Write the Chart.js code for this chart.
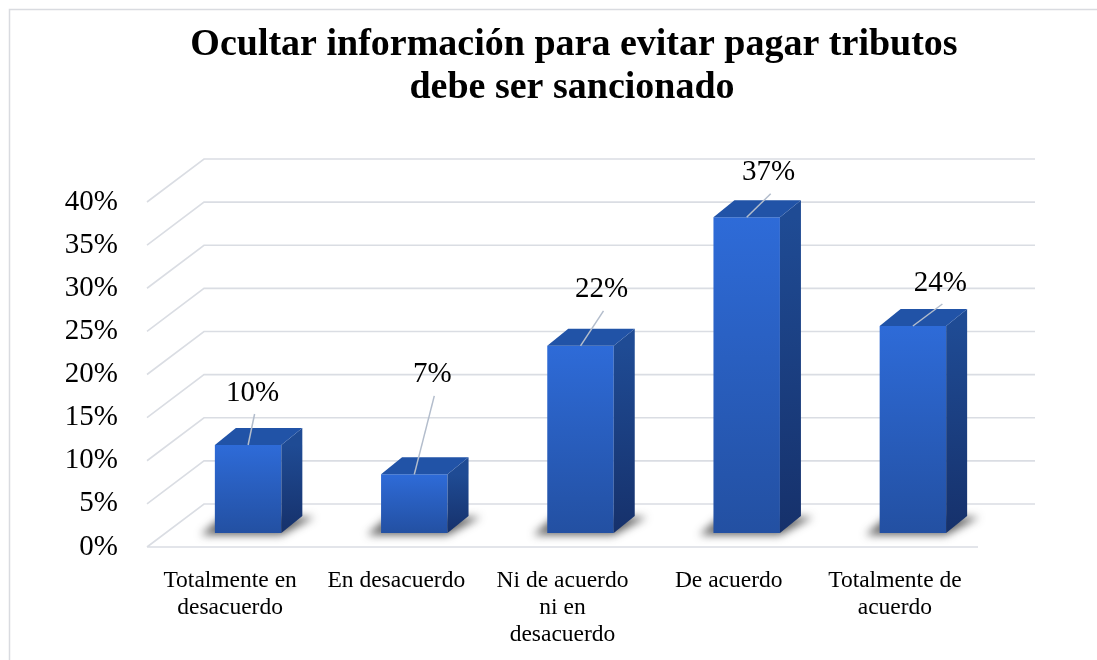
<!DOCTYPE html>
<html>
<head>
<meta charset="utf-8">
<title>Ocultar información para evitar pagar tributos</title>
<script src="https://cdn.jsdelivr.net/npm/chart.js@4.4.1/dist/chart.umd.min.js"></script>
<style>
  html, body { margin: 0; padding: 0; background: #fff; overflow: hidden; }
  #wrap { width: 1097px; height: 660px; }
</style>
</head>
<body>
<div id="wrap"><canvas id="surveyChart" width="1097" height="660"></canvas></div>
<script>
// data
const titleLines = ["Ocultar información para evitar pagar tributos", "debe ser sancionado"];
const categories = [
  ["Totalmente en", "desacuerdo"],
  "En desacuerdo",
  ["Ni de acuerdo", "ni en", "desacuerdo"],
  "De acuerdo",
  ["Totalmente de", "acuerdo"],
];
const percentages = [10.2, 6.8, 21.7, 36.6, 24.0];
const yTickValues = [0, 5, 10, 15, 20, 25, 30, 35, 40];

// where the value labels were dragged to, relative to the bar's top
const labelOffsets = [[4.5, -52], [18, -99.5], [21, -56], [22, -44.5], [27.5, -43]];

const SERIF = "'Liberation Serif', 'Times New Roman', serif";
const FRONT = { dx: 18, dy: -14 }; // bars sit a bit behind the axis plane
const DEPTH = { dx: 21, dy: -17 }; // bar thickness
const WALL = { dx: 57, dy: -43 };  // back wall

const threeD = {
  id: "threeD",
  beforeDraw(chart) {
    const c = chart.ctx;
    c.save();
    c.strokeStyle = "#d9dbe0";
    c.lineWidth = 1.5;
    c.strokeRect(9.5, 9.5, 1300, 1300);

    // title
    c.fillStyle = "#000";
    c.font = "bold 38px " + SERIF;
    c.textAlign = "center";
    c.textBaseline = "alphabetic";
    c.fillText(titleLines[0], 574, 55);
    c.fillText(titleLines[1], 572, 98);
    c.restore();
  },
  beforeDatasetsDraw(chart) {
    const c = chart.ctx;
    const a = chart.chartArea;
    const y = chart.scales.y;
    c.save();
    c.strokeStyle = "#dadde3";
    c.lineWidth = 1.6;
    y.ticks.forEach((t) => {
      const py = y.getPixelForValue(t.value);
      c.beginPath();
      c.moveTo(a.left, py);
      c.lineTo(a.left + WALL.dx, py + WALL.dy);
      c.lineTo(a.right + WALL.dx, py + WALL.dy);
      if (t.value === 0) {
        c.moveTo(a.left, py);
        c.lineTo(a.right, py);
      }
      c.stroke();
    });

    // soft shadows on the floor
    c.filter = "blur(4px)";
    c.fillStyle = "rgba(35,35,35,0.7)";
    chart.getDatasetMeta(0).data.forEach((bar) => {
      const xl = bar.x - bar.width / 2 + FRONT.dx;
      const xr = bar.x + bar.width / 2 + FRONT.dx;
      const b = bar.base + FRONT.dy;
      c.beginPath();
      c.moveTo(xl - 14, b + 2);
      c.lineTo(xr, b + 2);
      c.lineTo(xr + DEPTH.dx + 12, b + DEPTH.dy + 1);
      c.lineTo(xl + DEPTH.dx - 14, b + DEPTH.dy + 1);
      c.closePath();
      c.fill();
    });
    c.filter = "none";
    c.restore();

    // front faces get drawn by chart.js, shifted back
    c.save();
    c.translate(FRONT.dx, FRONT.dy);
  },
  afterDatasetsDraw(chart) {
    const c = chart.ctx;
    c.restore();
    const bars = chart.getDatasetMeta(0).data;

    bars.forEach((bar) => {
      const xl = bar.x - bar.width / 2 + FRONT.dx;
      const xr = bar.x + bar.width / 2 + FRONT.dx;
      const top = bar.y + FRONT.dy;
      const bot = bar.base + FRONT.dy;

      // side
      const side = c.createLinearGradient(0, top, 0, bot);
      side.addColorStop(0, "#1f4b94");
      side.addColorStop(1, "#16316b");
      c.fillStyle = side;
      c.beginPath();
      c.moveTo(xr, top);
      c.lineTo(xr + DEPTH.dx, top + DEPTH.dy);
      c.lineTo(xr + DEPTH.dx, bot + DEPTH.dy);
      c.lineTo(xr, bot);
      c.closePath();
      c.fill();

      // top
      c.fillStyle = "#2153a7";
      c.beginPath();
      c.moveTo(xl, top);
      c.lineTo(xl + DEPTH.dx, top + DEPTH.dy);
      c.lineTo(xr + DEPTH.dx, top + DEPTH.dy);
      c.lineTo(xr, top);
      c.closePath();
      c.fill();
    });

    // value labels with leader lines
    c.save();
    c.font = "29px " + SERIF;
    c.fillStyle = "#000";
    c.textAlign = "center";
    c.textBaseline = "middle";
    c.strokeStyle = "#b3bdcc";
    c.lineWidth = 1.5;
    bars.forEach((bar, i) => {
      const cx = bar.x + FRONT.dx;
      const top = bar.y + FRONT.dy;
      const lx = cx + labelOffsets[i][0];
      const ly = top + labelOffsets[i][1];
      c.beginPath();
      c.moveTo(lx + 2, ly + 21);
      c.lineTo(cx, top);
      c.stroke();
      c.fillText(Math.round(percentages[i]) + "%", lx, ly);
    });
    c.restore();
  },
};

const ctx = document.getElementById("surveyChart").getContext("2d");
const surveyChart = new Chart(ctx, {
  type: "bar",
  data: {
    labels: categories,
    datasets: [
      {
        data: percentages,
        clip: false,
        borderWidth: 0,
        barPercentage: 0.4,
        categoryPercentage: 1,
        backgroundColor: (c) => {
          const y = c.chart.scales.y;
          if (!y || c.type !== "data") return "#2a60c2";
          const top = y.getPixelForValue(c.raw);
          const bottom = y.getPixelForValue(0);
          if (!isFinite(top) || !isFinite(bottom) || top === bottom) return "#2a60c2";
          const g = c.chart.ctx.createLinearGradient(0, top, 0, bottom);
          g.addColorStop(0, "#2e6bd8");
          g.addColorStop(1, "#2350a2");
          return g;
        },
      },
    ],
  },
  options: {
    responsive: false,
    animation: false,
    devicePixelRatio: 1,
    layout: {
      padding: { top: 202, right: 119, bottom: 0, left: 0 },
    },
    plugins: {
      legend: { display: false },
      title: { display: false },
      tooltip: { enabled: false },
    },
    scales: {
      x: {
        grid: { display: false },
        border: { display: false },
        ticks: {
          color: "#000",
          padding: 12.5,
          autoSkip: false,
          maxRotation: 0,
          font: { family: SERIF, size: 23.5, lineHeight: 1.15 },
        },
        afterFit: (scale) => {
          scale.height = 113;
        },
      },
      y: {
        min: 0,
        max: 40,
        grid: { display: false },
        border: { display: false },
        afterBuildTicks: (scale) => {
          scale.ticks = yTickValues.map((v) => ({ value: v }));
        },
        ticks: {
          color: "#000",
          padding: 21,
          font: { family: SERIF, size: 29 },
          callback: (v) => v + "%",
        },
        afterFit: (scale) => {
          scale.width = 147;
        },
      },
    },
  },
  plugins: [threeD],
});
</script>
</body>
</html>
